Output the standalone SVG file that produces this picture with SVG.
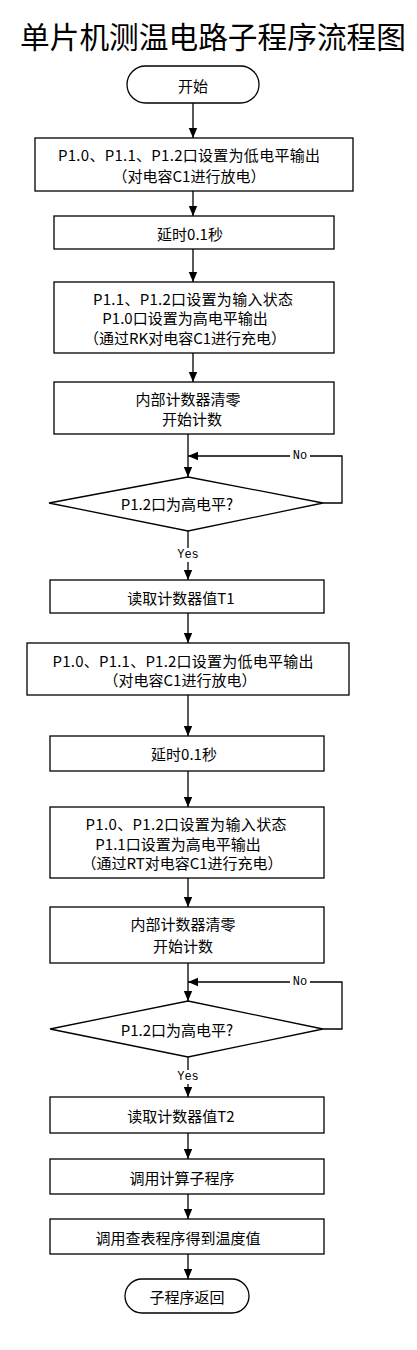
<svg xmlns="http://www.w3.org/2000/svg" width="417" height="1350" viewBox="0 0 417 1350">
<style>
.s{fill:#fff;stroke:#000;stroke-width:1.3}
.t{font-family:"Noto Sans CJK SC","Liberation Sans",sans-serif;font-size:15px;fill:#000;text-anchor:middle;dominant-baseline:central}
.ti{font-family:"Noto Sans CJK SC","Liberation Serif",serif;font-size:29.5px;fill:#000;text-anchor:middle;dominant-baseline:central}
.l{font-family:"Liberation Mono","Noto Sans CJK SC",monospace;font-size:12px;fill:#000;text-anchor:middle;dominant-baseline:central}
.c{fill:none;stroke:#000;stroke-width:1.3}
</style>
<defs>
<marker id="ah" markerUnits="userSpaceOnUse" markerWidth="10" markerHeight="10" viewBox="0 0 10 10" refX="10" refY="5" orient="auto">
<path d="M0,0.8 L10,5 L0,9.2 Z" fill="#000"/>
</marker>
</defs>
<rect width="417" height="1350" fill="#fff"/>
<text class="ti" x="213" y="35" textLength="386" lengthAdjust="spacingAndGlyphs">单片机测温电路子程序流程图</text>

<g id="connectors">
<line class="c" x1="193" y1="103" x2="193" y2="138" marker-end="url(#ah)"/>
<line class="c" x1="193" y1="191" x2="193" y2="216" marker-end="url(#ah)"/>
<line class="c" x1="193" y1="249" x2="193" y2="282" marker-end="url(#ah)"/>
<line class="c" x1="193" y1="353" x2="193" y2="382" marker-end="url(#ah)"/>
<line class="c" x1="188" y1="434" x2="188" y2="477" marker-end="url(#ah)"/>
<polyline class="c" points="323,503 342,503 342,456 188,456" marker-end="url(#ah)"/>
<line class="c" x1="188" y1="531" x2="188" y2="580" marker-end="url(#ah)"/>
<line class="c" x1="188" y1="613" x2="188" y2="643" marker-end="url(#ah)"/>
<line class="c" x1="188" y1="695" x2="188" y2="736" marker-end="url(#ah)"/>
<line class="c" x1="188" y1="771" x2="188" y2="807" marker-end="url(#ah)"/>
<line class="c" x1="188" y1="878" x2="188" y2="907" marker-end="url(#ah)"/>
<line class="c" x1="188" y1="963" x2="188" y2="1001" marker-end="url(#ah)"/>
<polyline class="c" points="323,1029 342,1029 342,982 188,982" marker-end="url(#ah)"/>
<line class="c" x1="188" y1="1057" x2="188" y2="1097" marker-end="url(#ah)"/>
<line class="c" x1="188" y1="1133" x2="188" y2="1159" marker-end="url(#ah)"/>
<line class="c" x1="188" y1="1194" x2="188" y2="1219" marker-end="url(#ah)"/>
<line class="c" x1="188" y1="1254" x2="188" y2="1279" marker-end="url(#ah)"/>
<rect x="290" y="449" width="20" height="14" fill="#fff"/>
<text class="l" x="300" y="456">No</text>
<rect x="175" y="548" width="26" height="14" fill="#fff"/>
<text class="l" x="188" y="555">Yes</text>
<rect x="290" y="975" width="20" height="14" fill="#fff"/>
<text class="l" x="300" y="982">No</text>
<rect x="175" y="1070" width="26" height="14" fill="#fff"/>
<text class="l" x="188" y="1077">Yes</text>
</g>

<g id="start">
<rect class="s" x="127" y="66" width="132" height="37" rx="18.5"/>
<text class="t" x="193" y="85">开始</text>
</g>
<g id="box1">
<rect class="s" x="35" y="138" width="318" height="53"/>
<text class="t" x="189" y="154" textLength="262">P1.0、P1.1、P1.2口设置为低电平输出</text>
<text class="t" x="189" y="175">（对电容C1进行放电）</text>
</g>
<g id="box2">
<rect class="s" x="54" y="216" width="280" height="33"/>
<text class="t" x="190" y="233">延时0.1秒</text>
</g>
<g id="box3">
<rect class="s" x="54" y="282" width="280" height="71"/>
<text class="t" x="193" y="298" textLength="200">P1.1、P1.2口设置为输入状态</text>
<text class="t" x="185" y="317">P1.0口设置为高电平输出</text>
<text class="t" x="185" y="337">（通过RK对电容C1进行充电）</text>
</g>
<g id="box4">
<rect class="s" x="54" y="382" width="280" height="52"/>
<text class="t" x="188" y="398">内部计数器清零</text>
<text class="t" x="192" y="418">开始计数</text>
</g>
<g id="decision1">
<polygon class="s" points="188,477 323,503 188,531 49,503"/>
<text class="t" x="177" y="503">P1.2口为高电平?</text>
</g>
<g id="box5">
<rect class="s" x="50" y="580" width="274" height="33"/>
<text class="t" x="181" y="597">读取计数器值T1</text>
</g>
<g id="box6">
<rect class="s" x="27" y="643" width="322" height="52"/>
<text class="t" x="183" y="660" textLength="261">P1.0、P1.1、P1.2口设置为低电平输出</text>
<text class="t" x="180" y="679">（对电容C1进行放电）</text>
</g>
<g id="box7">
<rect class="s" x="50" y="736" width="274" height="35"/>
<text class="t" x="184" y="753">延时0.1秒</text>
</g>
<g id="box8">
<rect class="s" x="50" y="807" width="274" height="71"/>
<text class="t" x="186" y="823" textLength="201">P1.0、P1.2口设置为输入状态</text>
<text class="t" x="178" y="843">P1.1口设置为高电平输出</text>
<text class="t" x="182" y="862">（通过RT对电容C1进行充电）</text>
</g>
<g id="box9">
<rect class="s" x="50" y="907" width="274" height="56"/>
<text class="t" x="183" y="923">内部计数器清零</text>
<text class="t" x="183" y="945">开始计数</text>
</g>
<g id="decision2">
<polygon class="s" points="188,1001 323,1029 188,1057 50,1029"/>
<text class="t" x="177" y="1029">P1.2口为高电平?</text>
</g>
<g id="box10">
<rect class="s" x="50" y="1097" width="274" height="36"/>
<text class="t" x="181" y="1115">读取计数器值T2</text>
</g>
<g id="box11">
<rect class="s" x="50" y="1159" width="274" height="35"/>
<text class="t" x="182" y="1177">调用计算子程序</text>
</g>
<g id="box12">
<rect class="s" x="50" y="1219" width="274" height="35"/>
<text class="t" x="178" y="1237">调用查表程序得到温度值</text>
</g>
<g id="end">
<rect class="s" x="125" y="1279" width="124" height="34" rx="17"/>
<text class="t" x="187" y="1296">子程序返回</text>
</g>
</svg>
